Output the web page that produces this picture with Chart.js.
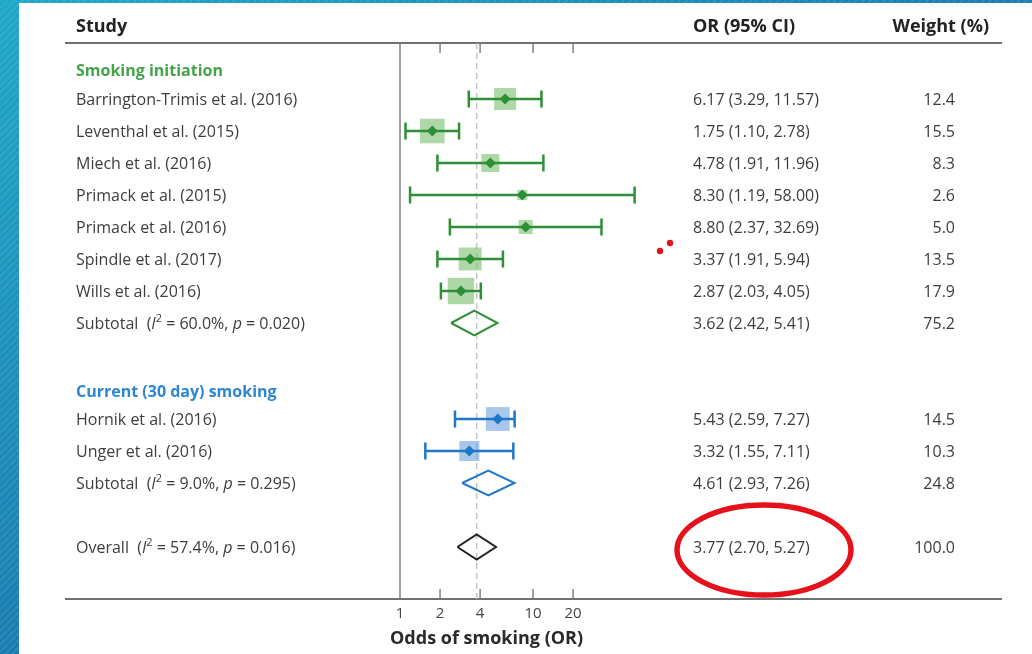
<!DOCTYPE html>
<html>
<head>
<meta charset="utf-8">
<script src="https://cdn.jsdelivr.net/npm/chart.js@4.4.1/dist/chart.umd.min.js"></script>
<style>
  body { margin: 0; }
  #wrap {
    position: relative; width: 1032px; height: 654px; overflow: hidden;
    background:
      repeating-linear-gradient(135deg, rgba(255,255,255,0.08) 0 2px, rgba(255,255,255,0) 2px 5px),
      linear-gradient(to bottom right, #1fa8c8, #1a78ae 55%, #1a5b93);
  }
  #panel { position: absolute; left: 19px; top: 3px; right: 0; bottom: 0; background: #fff; }
  #forest { position: absolute; left: 0; top: 0; }
</style>
</head>
<body>
<div id="wrap"><div id="panel"></div><canvas id="forest" width="1032" height="654"></canvas></div>
<script>
// Smoking initiation studies
const initStudies = ['Barrington-Trimis et al. (2016)', 'Leventhal et al. (2015)', 'Miech et al. (2016)',
    'Primack et al. (2015)', 'Primack et al. (2016)', 'Spindle et al. (2017)', 'Wills et al. (2016)'];
const initOR = [6.17, 1.75, 4.78, 8.30, 8.80, 3.37, 2.87];
const initLow = [3.29, 1.10, 1.91, 1.19, 2.37, 1.91, 2.03];
const initHigh = [11.57, 2.78, 11.96, 58.00, 32.69, 5.94, 4.05];
const initWeight = [12.4, 15.5, 8.3, 2.6, 5.0, 13.5, 17.9];

// Current (30 day) smoking studies
const currStudies = ['Hornik et al. (2016)', 'Unger et al. (2016)'];
const currOR = [5.43, 3.32];
const currLow = [2.59, 1.55];
const currHigh = [7.27, 7.11];
const currWeight = [14.5, 10.3];

// Subtotals: [smoking initiation, current smoking]
const subOR = [3.62, 4.61];
const subLow = [2.42, 2.93];
const subHigh = [5.41, 7.26];
const subWeight = [75.2, 24.8];
const subI2 = [60.0, 9.0];
const subP = [0.020, 0.295];

// Overall
const overallOR = 3.77;
const overallLow = 2.70;
const overallHigh = 5.27;
const overallWeight = 100.0;
const overallI2 = 57.4;
const overallP = 0.016;

const groupTitles = ['Smoking initiation', 'Current (30 day) smoking'];
const xTicks = [1, 2, 4, 10, 20];

// Layout: row slots on the y axis (one unit = one table line)
const initRows = initStudies.map((s, i) => i);
const subRows = [initRows.length, initRows.length + 5];
const currRows = currStudies.map((s, i) => initRows.length + 3 + i);
const overallRow = subRows[1] + 2;
const titleRows = [-0.87, currRows[0] - 0.83];
const yMin = -1.75, yMax = 15.625;

const FONT = '"Open Sans", "Noto Sans", sans-serif';
const GREEN = '#2f8f37', GREEN_LIGHT = 'rgba(122,190,112,0.6)', GREEN_TEXT = '#45a34a';
const BLUE = '#1f77c6', BLUE_LIGHT = 'rgba(112,160,222,0.6)', BLUE_TEXT = '#2d86d2';
const TEXT = '#3d3d3d';

// square side grows with sqrt of weight; rect point side = radius * sqrt(2)
const squareRadius = w => 6.25 * Math.sqrt(w) / Math.SQRT2;

const studySets = (or, lo, hi, w, rows, col, light) => {
    const sets = [];
    sets.push({
        data: or.map((v, i) => ({ x: v, y: rows[i] })),
        pointStyle: 'rectRot', pointRadius: 5.5, pointBackgroundColor: col, pointBorderWidth: 0, order: 0
    });
    or.forEach((v, i) => {
        sets.push({
            data: [{ x: lo[i], y: rows[i] }, { x: hi[i], y: rows[i] }],
            showLine: true, borderColor: col, borderWidth: 2.5,
            pointStyle: 'line', rotation: 90, pointRadius: 8.5, pointBorderColor: col, pointBorderWidth: 2.5,
            order: 1
        });
    });
    sets.push({
        data: or.map((v, i) => ({ x: v, y: rows[i] })),
        pointStyle: 'rect', pointRadius: ctx => squareRadius(w[ctx.dataIndex]),
        pointBackgroundColor: light, pointBorderWidth: 0, order: 2
    });
    return sets;
};

const diamondSet = (est, lo, hi, row, col) => {
    const h = 0.39;
    return {
        data: [{ x: lo, y: row }, { x: est, y: row - h }, { x: hi, y: row }, { x: est, y: row + h }, { x: lo, y: row }],
        showLine: true, borderColor: col, borderWidth: 2, borderJoinStyle: 'miter', pointRadius: 0, order: 1
    };
};

const datasets = [
    ...studySets(initOR, initLow, initHigh, initWeight, initRows, GREEN, GREEN_LIGHT),
    ...studySets(currOR, currLow, currHigh, currWeight, currRows, BLUE, BLUE_LIGHT),
    diamondSet(subOR[0], subLow[0], subHigh[0], subRows[0], GREEN),
    diamondSet(subOR[1], subLow[1], subHigh[1], subRows[1], BLUE),
    diamondSet(overallOR, overallLow, overallHigh, overallRow, '#222'),
    {
        data: [{ x: overallOR, y: yMin }, { x: overallOR, y: yMax }],
        showLine: true, borderColor: '#c4c4c4', borderWidth: 1.5, borderDash: [6, 4], pointRadius: 0, order: 5
    }
];
datasets.forEach(d => { d.clip = false; });

const fmtCI = (v, lo, hi) => `${v.toFixed(2)} (${lo.toFixed(2)}, ${hi.toFixed(2)})`;

// draw a line of text made of several font runs
const rich = (ctx, x, y, parts) => {
    parts.forEach(p => {
        ctx.font = p.f;
        ctx.fillText(p.t, x, y + (p.dy || 0));
        x += ctx.measureText(p.t).width;
    });
};

const statParts = (label, i2, p) => {
    const reg = `16px ${FONT}`, ital = `italic 16px ${FONT}`, small = `11px ${FONT}`;
    return [
        { t: label + '  (', f: reg }, { t: 'I', f: ital }, { t: '2', f: small, dy: -5 },
        { t: ` = ${i2.toFixed(1)}%, `, f: reg }, { t: 'p', f: ital }, { t: ` = ${p.toFixed(3)})`, f: reg }
    ];
};

const forestPlugin = {
    id: 'forestTable',
    beforeDatasetsDraw(chart) {
        const { ctx, chartArea, scales: { x } } = chart;
        ctx.save();
        ctx.strokeStyle = '#707070';
        ctx.lineWidth = 2;
        [chartArea.top, chartArea.bottom].forEach(yy => {
            ctx.beginPath(); ctx.moveTo(65, yy); ctx.lineTo(1002, yy); ctx.stroke();
        });
        ctx.lineWidth = 1.5;
        ctx.strokeStyle = '#808080';
        const x1 = x.getPixelForValue(1);
        ctx.beginPath(); ctx.moveTo(x1, chartArea.top); ctx.lineTo(x1, chartArea.bottom); ctx.stroke();
        xTicks.slice(1).forEach(v => {
            const px = x.getPixelForValue(v);
            ctx.beginPath(); ctx.moveTo(px, chartArea.top); ctx.lineTo(px, chartArea.top + 10); ctx.stroke();
            ctx.beginPath(); ctx.moveTo(px, chartArea.bottom); ctx.lineTo(px, chartArea.bottom - 10); ctx.stroke();
        });
        ctx.restore();
    },
    afterDraw(chart) {
        const { ctx, chartArea, scales: { x, y } } = chart;
        const nameX = 76, ciX = 693, weightX = 955;
        const reg = `16px ${FONT}`, bold = `bold 18px ${FONT}`;
        ctx.save();
        ctx.textBaseline = 'middle';

        // header
        const hy = chartArea.top - 16;
        ctx.fillStyle = '#222';
        ctx.font = bold;
        ctx.textAlign = 'left';
        ctx.fillText('Study', nameX, hy);
        ctx.fillText('OR (95% CI)', ciX, hy);
        ctx.textAlign = 'right';
        ctx.fillText('Weight (%)', 989, hy);

        // group titles
        ctx.textAlign = 'left';
        ctx.font = `bold 16px ${FONT}`;
        ctx.fillStyle = GREEN_TEXT;
        ctx.fillText(groupTitles[0], nameX, y.getPixelForValue(titleRows[0]));
        ctx.fillStyle = BLUE_TEXT;
        ctx.fillText(groupTitles[1], nameX, y.getPixelForValue(titleRows[1]));

        const row = (name, v, lo, hi, w, r) => {
            const py = y.getPixelForValue(r) + 1;
            ctx.fillStyle = TEXT;
            ctx.font = reg;
            ctx.textAlign = 'left';
            if (typeof name === 'string') ctx.fillText(name, nameX, py);
            else rich(ctx, nameX, py, name);
            ctx.font = reg;
            ctx.textAlign = 'left';
            ctx.fillText(fmtCI(v, lo, hi), ciX, py);
            ctx.textAlign = 'right';
            ctx.fillText(w.toFixed(1), weightX, py);
        };
        initStudies.forEach((s, i) => row(s, initOR[i], initLow[i], initHigh[i], initWeight[i], initRows[i]));
        currStudies.forEach((s, i) => row(s, currOR[i], currLow[i], currHigh[i], currWeight[i], currRows[i]));
        subRows.forEach((r, i) => row(statParts('Subtotal', subI2[i], subP[i]), subOR[i], subLow[i], subHigh[i], subWeight[i], r));
        row(statParts('Overall', overallI2, overallP), overallOR, overallLow, overallHigh, overallWeight, overallRow);

        // axis title
        ctx.fillStyle = '#2a2a2a';
        ctx.font = bold;
        ctx.textAlign = 'center';
        const mid = (x.getPixelForValue(xTicks[0]) + x.getPixelForValue(xTicks[xTicks.length - 1])) / 2;
        ctx.fillText('Odds of smoking (OR)', mid, chartArea.bottom + 40);

        // red highlight around the overall estimate
        const oy = y.getPixelForValue(overallRow) + 3;
        ctx.strokeStyle = '#e5121b';
        ctx.lineWidth = 5.5;
        ctx.beginPath();
        ctx.ellipse(ciX + 71, oy, 87, 45, 0, 0, Math.PI * 2);
        ctx.stroke();
        ctx.fillStyle = '#e0141f';
        const dy = y.getPixelForValue(5);
        [[ciX - 33, dy - 8], [ciX - 23, dy - 16]].forEach(([cx, cy]) => {
            ctx.beginPath(); ctx.arc(cx, cy, 3.2, 0, Math.PI * 2); ctx.fill();
        });
        ctx.restore();
    }
};

new Chart(document.getElementById('forest').getContext('2d'), {
    type: 'scatter',
    data: { datasets: datasets },
    options: {
        responsive: false,
        animation: false,
        devicePixelRatio: 1,
        events: [],
        layout: { padding: { left: 400, right: 372, top: 43, bottom: 25 } },
        plugins: { legend: { display: false }, tooltip: { enabled: false } },
        scales: {
            x: {
                type: 'logarithmic',
                min: 1,
                max: 90,
                afterBuildTicks: s => { s.ticks = xTicks.map(v => ({ value: v })); },
                afterFit: s => { s.height = 30; },
                grid: { display: false, drawTicks: false },
                border: { display: false },
                ticks: {
                    callback: v => String(v),
                    autoSkip: false, maxRotation: 0, padding: 6,
                    color: '#444', font: { family: 'Open Sans', size: 15 }
                }
            },
            y: { type: 'linear', min: yMin, max: yMax, reverse: true, display: false }
        }
    },
    plugins: [forestPlugin]
});
</script>
</body>
</html>
